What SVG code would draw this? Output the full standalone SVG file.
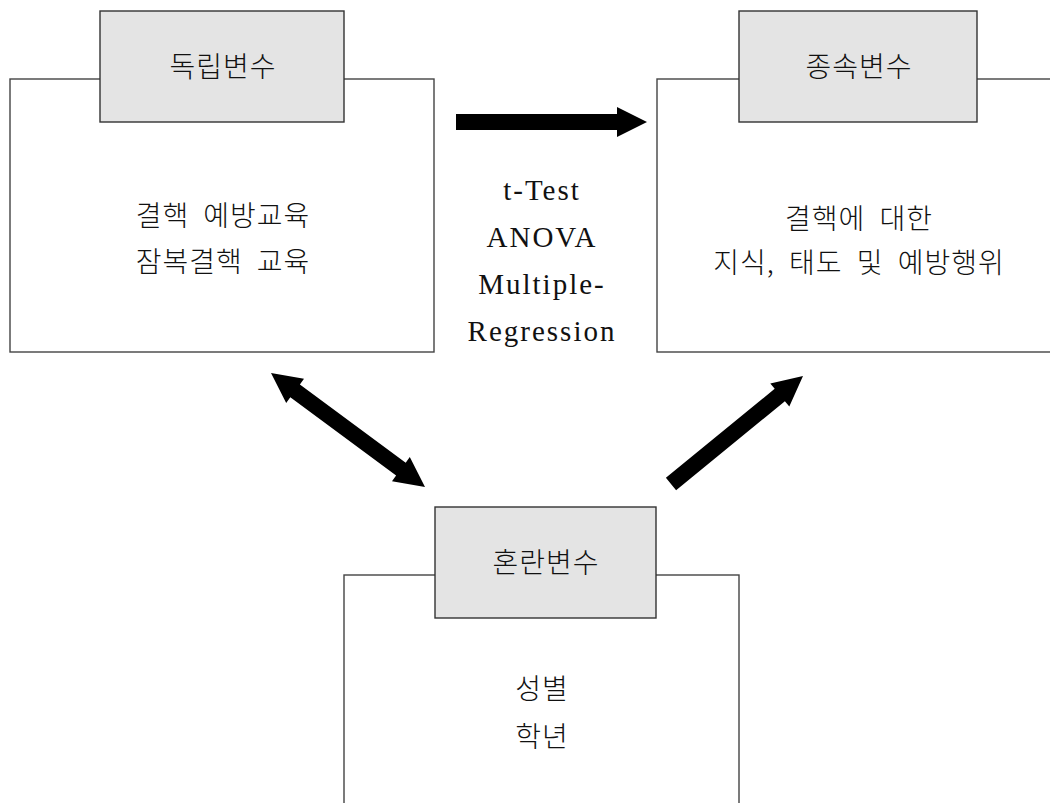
<svg xmlns="http://www.w3.org/2000/svg" width="1050" height="803" viewBox="0 0 1050 803">
  <style>
    .frame { fill: #ffffff; stroke: #444444; stroke-width: 1.4; }
    .head { fill: #e4e4e4; stroke: #333333; stroke-width: 1.4; }
    .ko { font-family: "Noto Sans CJK KR", "Noto Sans", sans-serif; font-size: 28px; font-weight: 300; fill: #111111; text-anchor: middle; letter-spacing: 1px; word-spacing: 7px; }
    .en { font-family: "Liberation Serif", "DejaVu Serif", serif; font-size: 29px; fill: #111111; text-anchor: middle; letter-spacing: 2px; }
    .arrow { fill: #000000; stroke: none; }
  </style>

  <rect width="1050" height="803" fill="#ffffff"/>

  <!-- independent variables -->
  <g id="independent">
    <rect class="frame" x="10" y="79" width="424" height="273"/>
    <rect class="head" x="100" y="11" width="244" height="111"/>
    <text class="ko" x="223" y="77">독립변수</text>
    <text class="ko" x="223" y="226">결핵 예방교육</text>
    <text class="ko" x="223" y="272">잠복결핵 교육</text>
  </g>

  <!-- dependent variables -->
  <g id="dependent">
    <rect class="frame" x="657" y="79" width="400" height="273"/>
    <rect class="head" x="739" y="11" width="238" height="111"/>
    <text class="ko" x="859" y="77">종속변수</text>
    <text class="ko" x="859" y="229">결핵에 대한</text>
    <text class="ko" x="859" y="273">지식, 태도 및 예방행위</text>
  </g>

  <!-- confounding variables -->
  <g id="confounding">
    <rect class="frame" x="344" y="575" width="395" height="240"/>
    <rect class="head" x="435" y="507" width="221" height="111"/>
    <text class="ko" x="546" y="573">혼란변수</text>
    <text class="ko" x="542" y="699">성별</text>
    <text class="ko" x="542" y="747">학년</text>
  </g>

  <!-- analysis methods -->
  <g id="methods">
    <text class="en" x="542" y="200">t-Test</text>
    <text class="en" x="542" y="247">ANOVA</text>
    <text class="en" x="542" y="294">Multiple-</text>
    <text class="en" x="542" y="341">Regression</text>
  </g>

  <!-- connectors -->
  <g id="connectors">
    <polygon class="arrow" points="456,114 617,114 617,107 647,122 617,137 617,130 456,130"/>
    <polygon class="arrow" points="271,373 286.2,403 290.3,397.3 396.1,475.6 392,481.3 425,487 409.8,457.1 405.7,462.8 299.9,384.5 304,378.8"/>
    <polygon class="arrow" points="803,376 789.3,406.6 784.9,401.2 676.1,490.2 665.9,477.8 774.7,388.8 770.3,383.4"/>
  </g>
</svg>
